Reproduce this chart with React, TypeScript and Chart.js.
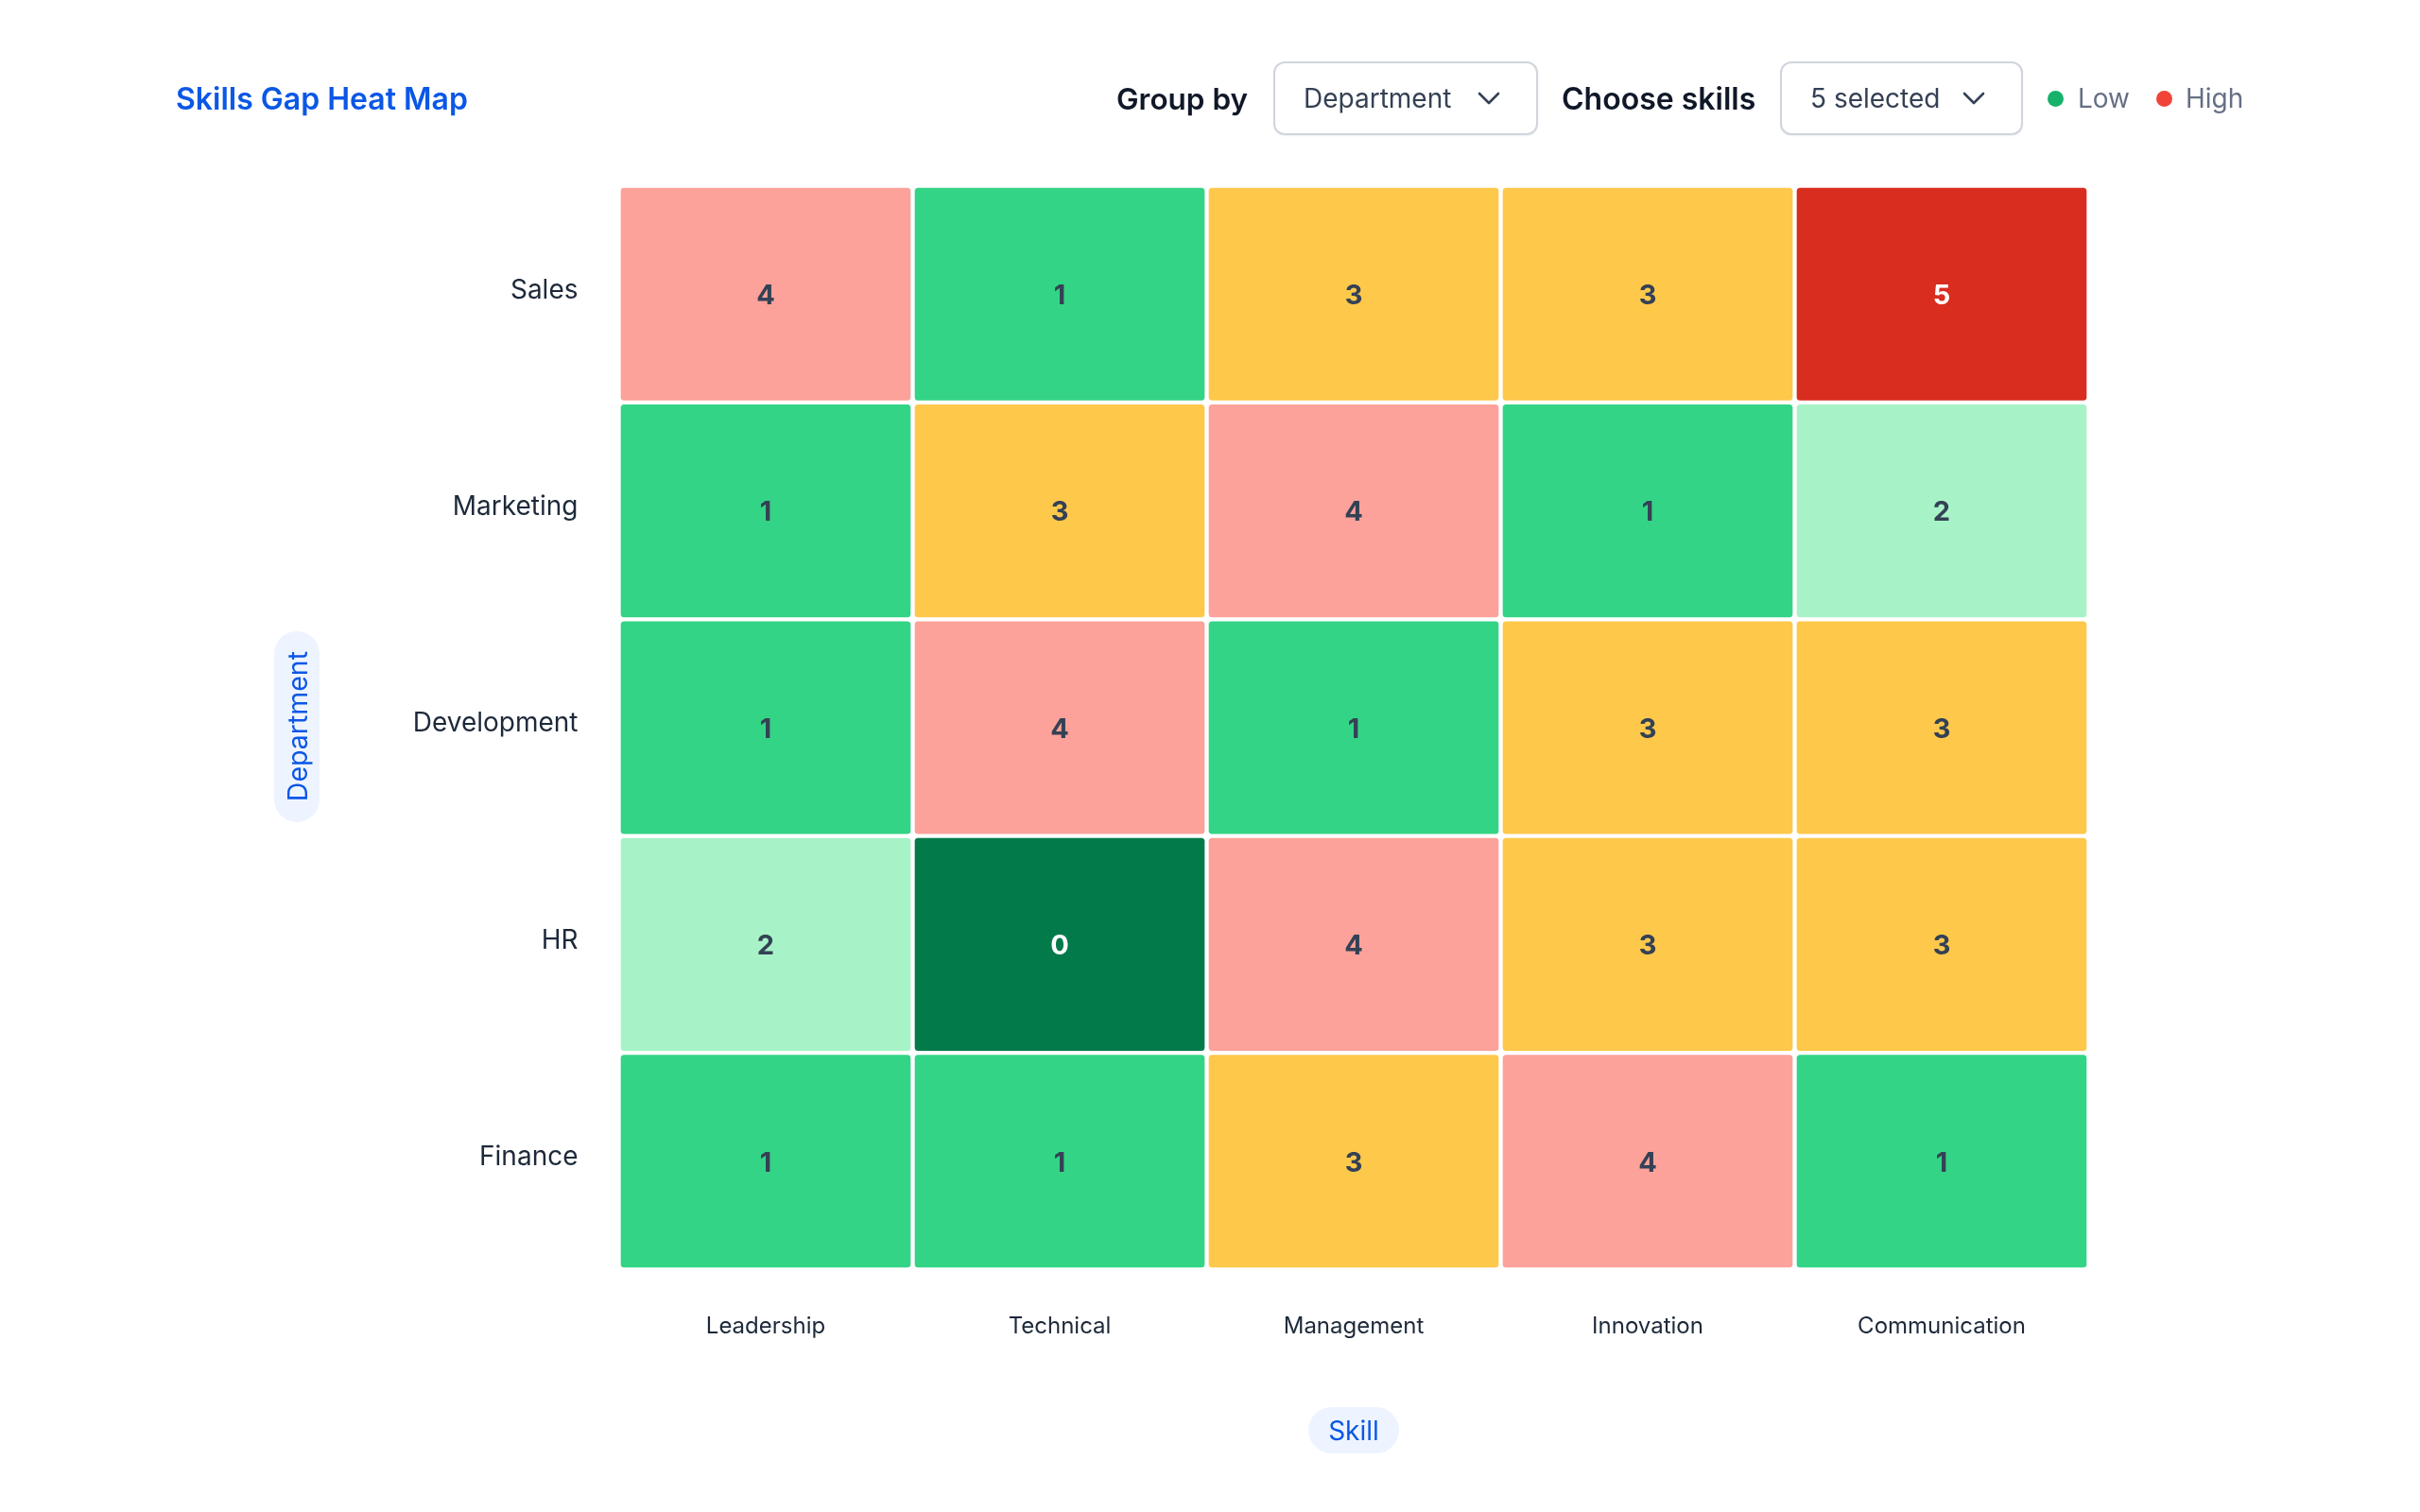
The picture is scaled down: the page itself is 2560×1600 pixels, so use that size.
import React, { useEffect, useRef } from "react";
import { Chart, registerables } from "chart.js";

Chart.register(...registerables);

const skills = ["Leadership", "Technical", "Management", "Innovation", "Communication"];
const departments = ["Sales", "Marketing", "Development", "HR", "Finance"];

const salesGaps = [4, 1, 3, 3, 5];
const marketingGaps = [1, 3, 4, 1, 2];
const developmentGaps = [1, 4, 1, 3, 3];
const hrGaps = [2, 0, 4, 3, 3];
const financeGaps = [1, 1, 3, 4, 1];

const gapRows = [salesGaps, marketingGaps, developmentGaps, hrGaps, financeGaps];

const levelColors = ["#037a4a", "#34d486", "#a7f3c7", "#fec84b", "#fca29a", "#d92d20"];
const levelTextColors = ["#ffffff", "#344155", "#344155", "#344155", "#344155", "#ffffff"];

const FONT = "Inter, 'Noto Sans', sans-serif";
const BLUE = "#0b57e6";

const valueLabelPlugin = {
  id: "valueLabels",
  afterDatasetsDraw(chart: any) {
    const ctx = chart.ctx;
    ctx.save();
    ctx.font = `700 29px ${FONT}`;
    ctx.textAlign = "center";
    ctx.textBaseline = "middle";
    chart.data.datasets.forEach((ds: any, di: number) => {
      const meta = chart.getDatasetMeta(di);
      meta.data.forEach((el: any, i: number) => {
        const v = ds.gapValues[i];
        const p = el.getProps(["x", "y", "base"], true);
        ctx.fillStyle = levelTextColors[v];
        ctx.fillText(String(v), p.x, (p.y + p.base) / 2 + 2);
      });
    });
    ctx.restore();
  },
};

function HeatMap() {
  const ref = useRef<HTMLCanvasElement | null>(null);
  useEffect(() => {
    if (!ref.current) return;
    const datasets = departments.map((dep, r) => ({
      label: dep,
      data: skills.map(() => [r, r + 1]),
      gapValues: gapRows[r],
      backgroundColor: gapRows[r].map((v) => levelColors[v]),
      borderColor: "#ffffff",
      borderWidth: 2.5,
      borderSkipped: false,
      borderRadius: 6,
      grouped: false,
      barPercentage: 1,
      categoryPercentage: 1,
    }));
    const chart = new Chart(ref.current, {
      type: "bar",
      data: { labels: skills, datasets: datasets as any },
      options: {
        animation: false,
        responsive: false,
        maintainAspectRatio: false,
        layout: { padding: { top: 196.5, right: 350.5, left: 0, bottom: 156.5 } },
        plugins: { legend: { display: false }, tooltip: { enabled: false }, title: { display: false } },
        scales: {
          x: {
            type: "category",
            offset: true,
            grid: { display: false, drawTicks: false },
            border: { display: false },
            ticks: {
              color: "#1d2939",
              font: { family: FONT, size: 24 },
              padding: 46,
              maxRotation: 0,
              autoSkip: false,
            },
            afterFit(scale: any) {
              scale.height = 100;
            },
          },
          y: {
            type: "linear",
            min: 0,
            max: 5,
            reverse: true,
            grid: { display: false, drawTicks: false },
            border: { display: false },
            afterBuildTicks(scale: any) {
              scale.ticks = departments.map((_, i) => ({ value: i + 0.5 }));
            },
            afterFit(scale: any) {
              scale.width = 654.5;
            },
            ticks: {
              color: "#1d2939",
              font: { family: FONT, size: 28 },
              padding: 43,
              labelOffset: -4,
              autoSkip: false,
              callback: (_v: any, index: number) => departments[index],
            },
          },
        },
      } as any,
      plugins: [valueLabelPlugin],
    });
    return () => chart.destroy();
  }, []);
  return <canvas ref={ref} width={2560} height={1600} style={{ position: "absolute", left: 0, top: 0, width: 2560, height: 1600 }} />;
}

const Chevron = () => (
  <svg width="24" height="14" viewBox="0 0 24 14" style={{ display: "block" }}>
    <path d="M2 2 L12 12 L22 2" fill="none" stroke="#344054" strokeWidth="2.6" strokeLinecap="round" strokeLinejoin="round" />
  </svg>
);

const dropdownStyle = (left: number, width: number): React.CSSProperties => ({
  position: "absolute",
  left,
  top: 65,
  width,
  height: 78,
  boxSizing: "border-box",
  border: "2px solid #d0d5dd",
  borderRadius: 12,
  background: "#fff",
  boxShadow: "0 1px 2px rgba(16,24,40,0.06)",
  display: "flex",
  alignItems: "center",
  justifyContent: "space-between",
  padding: "0 38px 0 30px",
  fontSize: 28,
  color: "#344054",
  fontWeight: 400,
});

const labelStyle = (left: number): React.CSSProperties => ({
  position: "absolute",
  left,
  top: 104,
  transform: "translateY(-50%)",
  fontSize: 32,
  fontWeight: 600,
  color: "#101828",
  whiteSpace: "nowrap",
});

export default function App() {
  return (
    <div
      style={{
        position: "fixed",
        left: 0,
        top: 0,
        width: 2560,
        height: 1600,
        background: "#ffffff",
        fontFamily: FONT,
        overflow: "hidden",
      }}
    >
      <HeatMap />
      <div style={{ ...labelStyle(186), color: BLUE, fontSize: 32 }}>Skills Gap Heat Map</div>
      <div style={{ ...labelStyle(1181), fontSize: 31.5 }}>Group by</div>
      <div style={dropdownStyle(1347, 280)}>
        <span>Department</span>
        <Chevron />
      </div>
      <div style={labelStyle(1652)}>Choose skills</div>
      <div style={dropdownStyle(1883, 257)}>
        <span>5 selected</span>
        <Chevron />
      </div>
      <div style={{ position: "absolute", left: 2166, top: 96, width: 17, height: 17, borderRadius: "50%", background: "#17b26a" }} />
      <div style={{ ...labelStyle(2198), fontWeight: 400, fontSize: 28, color: "#667085" }}>Low</div>
      <div style={{ position: "absolute", left: 2281, top: 96, width: 17, height: 17, borderRadius: "50%", background: "#f04438" }} />
      <div style={{ ...labelStyle(2312), fontWeight: 400, fontSize: 28, color: "#667085" }}>High</div>

      <div
        style={{
          position: "absolute",
          left: 290,
          top: 668,
          width: 48,
          height: 202,
          borderRadius: 24,
          background: "#eef4ff",
          display: "flex",
          alignItems: "center",
          justifyContent: "center",
        }}
      >
        <span style={{ writingMode: "vertical-rl", transform: "rotate(180deg)", fontSize: 28.5, color: BLUE, whiteSpace: "nowrap" }}>
          Department
        </span>
      </div>
      <div
        style={{
          position: "absolute",
          left: 1384,
          top: 1489,
          width: 96,
          height: 49,
          borderRadius: 25,
          background: "#eef4ff",
          display: "flex",
          alignItems: "center",
          justifyContent: "center",
          fontSize: 28,
          color: BLUE,
        }}
      >
        Skill
      </div>
    </div>
  );
}
